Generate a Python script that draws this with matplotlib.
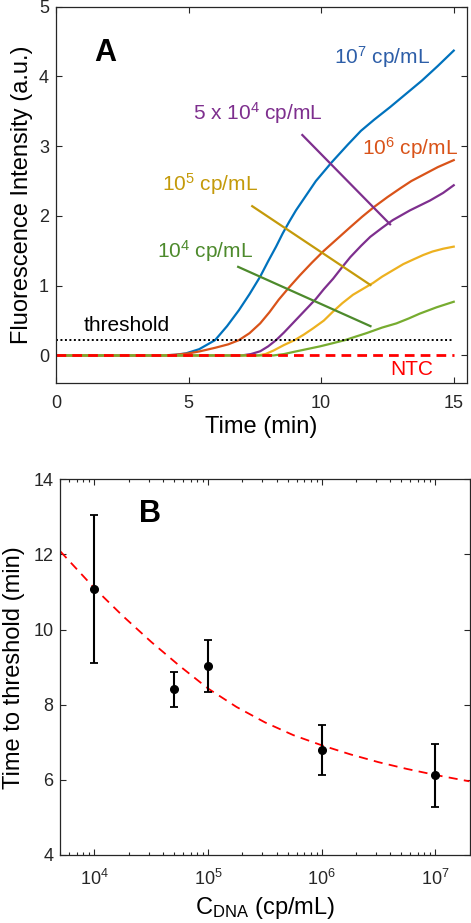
import numpy as np
import matplotlib
matplotlib.use('Agg')
import matplotlib.pyplot as plt

plt.rcParams['font.family'] = ['Liberation Sans', 'DejaVu Sans']
plt.rcParams['mathtext.fontset'] = 'custom'
plt.rcParams['mathtext.rm'] = 'Liberation Sans'
plt.rcParams['mathtext.it'] = 'Liberation Sans:italic'
plt.rcParams['mathtext.bf'] = 'Liberation Sans:bold'

# panel A: amplification curves (time in min, fluorescence a.u.)
t_1e7 = [0, 4.0, 4.5, 4.9, 5.4, 6.0, 6.45, 6.9, 7.3, 7.7, 8.0, 8.3, 8.55, 8.8, 9.05, 9.3,
         9.8, 10.4, 11.0, 11.5, 12.0, 12.6, 13.2, 13.8, 14.4, 15.0]
f_1e7 = [0, 0.0, 0.01, 0.03, 0.09, 0.22, 0.42, 0.65, 0.88, 1.13, 1.35, 1.56, 1.75, 1.92, 2.08, 2.22,
         2.50, 2.77, 3.02, 3.22, 3.38, 3.56, 3.75, 3.94, 4.15, 4.37]
t_1e6 = [0, 4.0, 4.5, 5.0, 5.4, 6.0, 6.5, 6.9, 7.3, 7.7, 8.05, 8.4, 8.8, 9.2, 9.65, 10.1,
         10.6, 11.1, 11.55, 12.0, 12.5, 13.0, 13.4, 13.8, 14.4, 15.0]
f_1e6 = [0, 0.0, 0.01, 0.03, 0.057, 0.11, 0.16, 0.22, 0.32, 0.46, 0.62, 0.80, 0.98, 1.15, 1.33, 1.50,
         1.67, 1.84, 1.99, 2.13, 2.27, 2.40, 2.50, 2.58, 2.70, 2.80]
t_5e4 = [0, 7.0, 7.35, 7.7, 8.0, 8.3, 8.6, 8.9, 9.3, 9.8, 10.1, 10.45, 10.8, 11.1, 11.5,
         11.85, 12.3, 12.7, 13.35, 14.1, 14.6, 15.0]
f_5e4 = [0, 0.0, 0.02, 0.06, 0.13, 0.22, 0.33, 0.45, 0.61, 0.81, 0.95, 1.10, 1.27, 1.41, 1.57,
         1.70, 1.83, 1.94, 2.08, 2.22, 2.33, 2.44]
t_1e5 = [0, 7.6, 7.9, 8.2, 8.6, 9.0, 9.35, 9.7, 10.1, 10.45, 10.8, 11.2, 11.6, 11.96, 12.3,
         12.7, 13.1, 13.5, 13.85, 14.2, 14.6, 15.0]
f_1e5 = [0, 0.0, 0.02, 0.07, 0.15, 0.22, 0.30, 0.39, 0.50, 0.63, 0.75, 0.87, 0.96, 1.04, 1.13,
         1.22, 1.31, 1.38, 1.44, 1.49, 1.53, 1.56]
t_1e4 = [0, 8.2, 8.6, 8.95, 9.45, 9.95, 10.45, 10.9, 11.3, 11.71, 12.3, 12.84, 13.3, 13.72, 14.35, 15.0]
f_1e4 = [0, 0.0, 0.02, 0.05, 0.09, 0.13, 0.177, 0.22, 0.27, 0.32, 0.40, 0.46, 0.53, 0.60, 0.69, 0.77]
threshold = 0.22

# panel B: time to threshold vs concentration
conc = [1e4, 5e4, 1e5, 1e6, 1e7]
ttt = [11.08, 8.41, 9.04, 6.80, 6.12]
ttt_err = [1.97, 0.47, 0.69, 0.67, 0.83]
fit_logc = [3.7, 4.0, 4.25, 4.5, 4.75, 5.0, 5.25, 5.5, 5.75, 6.0, 6.25, 6.5, 6.75, 7.0, 7.3]
fit_t = [12.08, 11.10, 10.36, 9.67, 9.03, 8.43, 7.94, 7.53, 7.19, 6.92, 6.68, 6.47, 6.29, 6.13, 5.96]

c_blue = '#0072BD'
c_orange = '#D95319'
c_yellow = '#EDB120'
c_purple = '#7E2F8E'
c_green = '#77AC30'
axcol = '#262626'

fig = plt.figure(figsize=(4.71, 9.23), dpi=100)

ax1 = fig.add_axes([0.1189, 0.5854, 0.8726, 0.4074])
ax1.plot(t_1e7, f_1e7, color=c_blue, lw=1.6)
ax1.plot(t_1e6, f_1e6, color=c_orange, lw=1.6)
ax1.plot(t_5e4, f_5e4, color=c_purple, lw=1.6)
ax1.plot(t_1e5, f_1e5, color=c_yellow, lw=1.6)
ax1.plot(t_1e4, f_1e4, color=c_green, lw=1.6)
ax1.plot([0, 15], [threshold, threshold], color='k', ls=(0, (1, 1.3)), lw=1.4)
ax1.plot([0, 15], [0, 0], color='#FF0000', ls=(0, (3.5, 2.2)), lw=2.0)

# pointer lines
ax1.plot([9.29, 12.6], [3.16, 1.88], color=c_purple, lw=1.6)
ax1.plot([7.40, 11.86], [2.14, 1.01], color='#C49A0A', lw=1.6)
ax1.plot([6.87, 11.86], [1.27, 0.42], color='#4D8A2C', lw=1.6)

fs = 15
ax1.text(10.49, 4.28, '10$^{7}$ cp/mL', color='#2D5EA8', fontsize=fs, va='center')
ax1.text(5.18, 3.48, '5 x 10$^{4}$ cp/mL', color=c_purple, fontsize=fs, va='center')
ax1.text(11.55, 2.98, '10$^{6}$ cp/mL', color=c_orange, fontsize=fs, va='center', clip_on=False)
ax1.text(4.0, 2.45, '10$^{5}$ cp/mL', color='#C49A0A', fontsize=fs, va='center')
ax1.text(3.82, 1.49, '10$^{4}$ cp/mL', color='#4D8A2C', fontsize=fs, va='center')
ax1.text(1.03, 0.43, 'threshold', color='k', fontsize=fs, va='center')
ax1.text(12.59, -0.195, 'NTC', color='#FF0000', fontsize=fs, va='center')
ax1.text(1.44, 4.34, 'A', color='k', fontsize=22, fontweight='bold', va='center')

ax1.set_xlim(0, 15.5)
ax1.set_ylim(-0.39, 5)
ax1.set_xticks([0, 5, 10, 15])
ax1.set_yticks([0, 1, 2, 3, 4, 5])
ax1.set_xlabel('Time (min)', fontsize=17, labelpad=3)
ax1.set_ylabel('Fluorescence Intensity (a.u.)', fontsize=17, labelpad=4)

ax2 = fig.add_axes([0.128, 0.0737, 0.869, 0.407])
ax2.set_xscale('log')
ax2.plot(10 ** np.array(fit_logc), fit_t, color='#FF0000', ls=(0, (5, 3.5)), lw=1.3)
ax2.errorbar(conc, ttt, yerr=ttt_err, fmt='o', color='k', ms=5.5, lw=1.5,
             capsize=3, capthick=1.3)
ax2.text(2.45e4, 13.08, 'B', color='k', fontsize=22, fontweight='bold', va='center')
ax2.set_xlim(5e3, 2e7)
ax2.set_ylim(4, 14)
ax2.set_xticks([1e4, 1e5, 1e6, 1e7])
ax2.set_xticklabels(['10$^{4}$', '10$^{5}$', '10$^{6}$', '10$^{7}$'])
ax2.set_yticks([4, 6, 8, 10, 12, 14])
ax2.set_xlabel('C$_{\\mathrm{DNA}}$ (cp/mL)', fontsize=17, labelpad=4)
ax2.set_ylabel('Time to threshold (min)', fontsize=17, labelpad=6)

for ax in (ax1, ax2):
    for s in ax.spines.values():
        s.set_color(axcol)
        s.set_linewidth(0.9)
    ax.tick_params(which='both', direction='in', top=True, right=True,
                   colors=axcol, labelsize=13, width=0.8)
    ax.tick_params(which='major', length=4, pad=5)
    ax.tick_params(which='minor', length=2)
    ax.xaxis.label.set_color('k')
    ax.yaxis.label.set_color('k')
ax1.tick_params(axis='x', which='major', pad=9)
ax2.tick_params(axis='x', which='major', pad=10)

fig.savefig('out.png', dpi=100)
